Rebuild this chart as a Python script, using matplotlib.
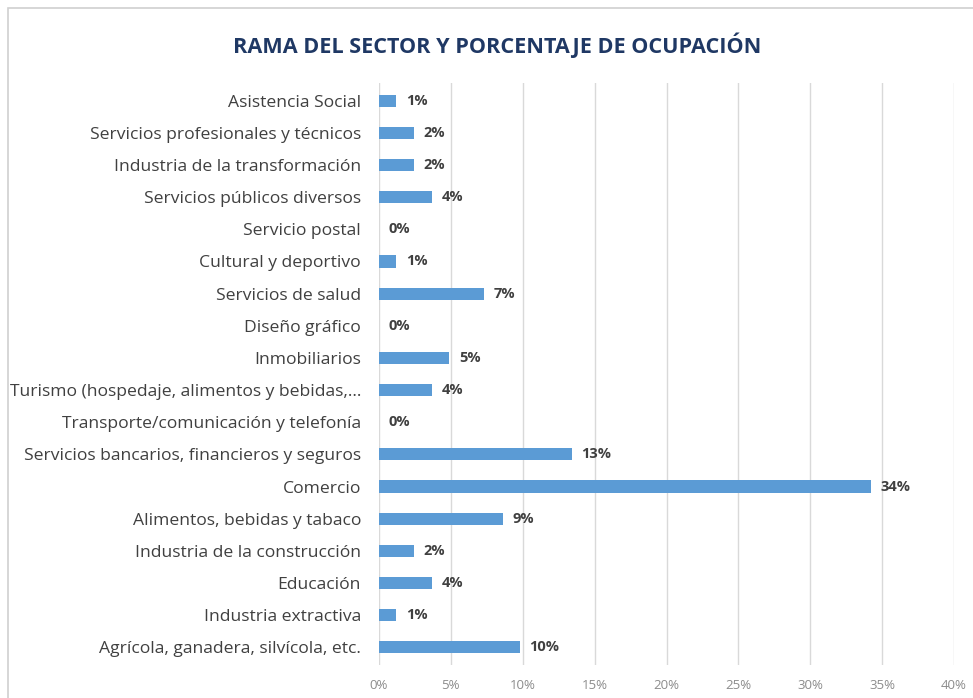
import matplotlib.pyplot as plt
import matplotlib.patches as mpatches
from matplotlib import font_manager

sectores = [
    "Asistencia Social",
    "Servicios profesionales y técnicos",
    "Industria de la transformación",
    "Servicios públicos diversos",
    "Servicio postal",
    "Cultural y deportivo",
    "Servicios de salud",
    "Diseño gráfico",
    "Inmobiliarios",
    "Turismo (hospedaje, alimentos y bebidas,...",
    "Transporte/comunicación y telefonía",
    "Servicios bancarios, financieros y seguros",
    "Comercio",
    "Alimentos, bebidas y tabaco",
    "Industria de la construcción",
    "Educación",
    "Industria extractiva",
    "Agrícola, ganadera, silvícola, etc.",
]
porcentajes = [1.2, 2.4, 2.4, 3.7, 0.0, 1.2, 7.3, 0.0, 4.9, 3.7, 0.0,
               13.4, 34.2, 8.6, 2.4, 3.7, 1.2, 9.8]
etiquetas = ["1%", "2%", "2%", "4%", "0%", "1%", "7%", "0%", "5%", "4%", "0%",
             "13%", "34%", "9%", "2%", "4%", "1%", "10%"]
ticks = [0, 5, 10, 15, 20, 25, 30, 35, 40]

names = {f.name for f in font_manager.fontManager.ttflist}
FONT = "Liberation Sans Narrow" if "Liberation Sans Narrow" in names else "Open Sans"
plt.rcParams["font.family"] = [FONT, "DejaVu Sans"]

BAR = "#5B9BD5"
TEXT = "#404040"

fig = plt.figure(figsize=(9.73, 6.98), dpi=100)
ax = fig.add_axes([379 / 973, 1 - 665 / 698, (954 - 379) / 973, (665 - 83) / 698])

y = list(range(len(sectores)))
ax.barh(y, porcentajes, height=0.38, color=BAR, zorder=3)
for yi, v, lab in zip(y, porcentajes, etiquetas):
    ax.annotate(lab, (v, yi), xytext=(7, 0), textcoords="offset points",
                ha="left", va="center", fontsize=10.5, fontweight="bold", color=TEXT)

ax.set_yticks(y)
ax.set_yticklabels(sectores, fontsize=12.6, color=TEXT)
ax.set_ylim(len(sectores) - 0.45, -0.55)
ax.set_xlim(0, 40)
ax.set_xticks(ticks)
ax.set_xticklabels([f"{t}%" for t in ticks], fontsize=9.5, color="#8c8c8c")
ax.tick_params(axis="y", length=0, pad=13)
ax.tick_params(axis="x", length=0, pad=10)
ax.grid(axis="x", color="#d9d9d9", lw=1, zorder=0)
for s in ax.spines.values():
    s.set_visible(False)

fig.text(497 / 973, 1 - 45 / 698, "RAMA DEL SECTOR Y PORCENTAJE DE OCUPACIÓN",
         ha="center", va="center", fontsize=15.6, fontweight="bold", color="#1F3864")

fig.patches.append(mpatches.Rectangle((8 / 973, -0.05), 1.0, 1 - 8 / 698 + 0.05,
                                      transform=fig.transFigure, fill=False,
                                      edgecolor="#d0d0d0", lw=1.2))

fig.savefig("out.png", dpi=100)
